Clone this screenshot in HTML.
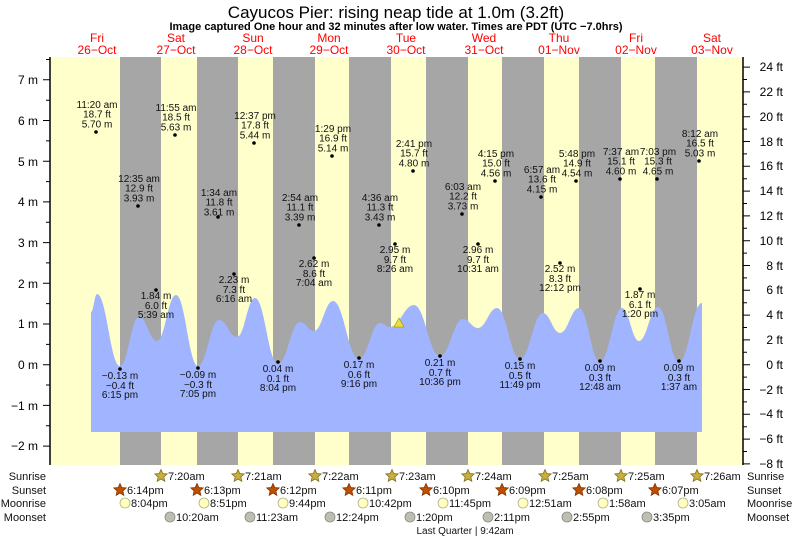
<!DOCTYPE html>
<html><head><meta charset="utf-8"><style>
html,body{margin:0;padding:0;background:#fff}
svg{display:block;font-family:"Liberation Sans",sans-serif}
</style></head><body>
<svg width="793" height="539" viewBox="0 0 793 539" xmlns="http://www.w3.org/2000/svg">
<defs>
<polygon id="st" points="0,-6.5 1.76,-2.43 6.18,-2.01 2.85,0.93 3.82,5.26 0,3 -3.82,5.26 -2.85,0.93 -6.18,-2.01 -1.76,-2.43"/>
</defs>
<text x="396" y="18" font-size="17" text-anchor="middle">Cayucos Pier: rising  neap tide at 1.0m (3.2ft)</text>
<text x="396" y="30" font-size="11" font-weight="bold" text-anchor="middle">Image captured One hour and 32 minutes after low water. Times are PDT (UTC −7.0hrs)</text>
<g fill="#f00" font-size="12" text-anchor="middle">
<text x="97" y="42">Fri</text><text x="97" y="54">26−Oct</text>
<text x="176" y="42">Sat</text><text x="176" y="54">27−Oct</text>
<text x="253" y="42">Sun</text><text x="253" y="54">28−Oct</text>
<text x="329" y="42">Mon</text><text x="329" y="54">29−Oct</text>
<text x="406" y="42">Tue</text><text x="406" y="54">30−Oct</text>
<text x="484" y="42">Wed</text><text x="484" y="54">31−Oct</text>
<text x="559" y="42">Thu</text><text x="559" y="54">01−Nov</text>
<text x="636" y="42">Fri</text><text x="636" y="54">02−Nov</text>
<text x="712" y="42">Sat</text><text x="712" y="54">03−Nov</text>
</g>
<rect x="50" y="57" width="693" height="408" fill="#ffffcc"/>
<g fill="#a6a6a6">
<rect x="120" y="57" width="41" height="408"/><rect x="197" y="57" width="41" height="408"/>
<rect x="273" y="57" width="42" height="408"/><rect x="349" y="57" width="42" height="408"/>
<rect x="426" y="57" width="42" height="408"/><rect x="502" y="57" width="42" height="408"/>
<rect x="579" y="57" width="42" height="408"/><rect x="655" y="57" width="42" height="408"/>
</g>
<path fill="#a0b4ff" d="M91,432 L91,312 C93.5,312 94.5,294 97,294 C106.7,294 110.3,366 120,366 C128,366 131,317 139,317 C146.6,317 149.4,341 157,341 C165,341 168,295 176,295 C185.2,295 188.8,366 198,366 C206.8,366 210.2,320 219,320 C226.6,320 229.4,337 237,337 C244.6,337 247.4,298 255,298 C264.7,298 268.3,364 278,364 C287.2,364 290.8,322 300,322 C305.9,322 308.1,331 314,331 C322,331 325,301 333,301 C343.9,301 348.1,359 359,359 C367.8,359 371.2,323 380,323 C384.2,323 385.8,327 390,327 C400,327 404,305 414,305 C424.9,305 429.1,356 440,356 C449.7,356 453.3,319 463,319 C469.3,319 471.7,328 478,328 C486,328 489,308 497,308 C506.7,308 510.3,359 520,359 C529.7,359 533.3,313 543,313 C550.1,313 552.9,333 560,333 C568,333 571,308 579,308 C587.8,308 591.2,362 600,362 C609.2,362 612.8,308 622,308 C629.1,308 631.9,341 639,341 C647,341 650,307 658,307 C666.8,307 670.2,362 679,362 C688.7,362 692.3,303 702,303 L702,432 Z"/>
<polygon points="399,318 394,327 404,327" fill="#e8e040" stroke="#a09000" stroke-width="0.6"/>
<line x1="50" y1="57" x2="50" y2="465" stroke="#000" stroke-width="1.5"/>
<line x1="743" y1="57" x2="743" y2="465" stroke="#000" stroke-width="1.5"/>
<path stroke="#000" stroke-width="1" fill="none" d="M43,79.8H50M43,120.5H50M43,161.2H50M43,201.9H50M43,242.6H50M43,283.3H50M43,324H50M43,364.7H50M43,405.4H50M43,446.1H50M46,59.5H50M46,100.2H50M46,140.9H50M46,181.6H50M46,222.3H50M46,262.9H50M46,303.6H50M46,344.4H50M46,385H50M46,425.8H50
M743,67.1H750M743,91.9H750M743,116.7H750M743,141.5H750M743,166.3H750M743,191.1H750M743,215.9H750M743,240.7H750M743,265.5H750M743,290.3H750M743,315.1H750M743,339.9H750M743,364.7H750M743,389.5H750M743,414.3H750M743,439.1H750M743,463.9H750
M743,79.5H747M743,104.3H747M743,129.1H747M743,153.9H747M743,178.7H747M743,203.5H747M743,228.3H747M743,253.1H747M743,277.9H747M743,302.7H747M743,327.5H747M743,352.3H747M743,377.1H747M743,401.9H747M743,426.7H747M743,451.5H747"/>
<g font-size="12" text-anchor="end">
<text x="38" y="84">7 m</text><text x="38" y="125">6 m</text><text x="38" y="166">5 m</text><text x="38" y="206">4 m</text>
<text x="38" y="247">3 m</text><text x="38" y="288">2 m</text><text x="38" y="328">1 m</text><text x="38" y="369">0 m</text>
<text x="38" y="410">−1 m</text><text x="38" y="450">−2 m</text>
</g>
<g font-size="12" text-anchor="end">
<text x="783" y="71">24 ft</text><text x="783" y="96">22 ft</text><text x="783" y="121">20 ft</text><text x="783" y="146">18 ft</text>
<text x="783" y="170">16 ft</text><text x="783" y="195">14 ft</text><text x="783" y="220">12 ft</text><text x="783" y="245">10 ft</text>
<text x="783" y="270">8 ft</text><text x="783" y="294">6 ft</text><text x="783" y="319">4 ft</text><text x="783" y="344">2 ft</text>
<text x="783" y="369">0 ft</text><text x="783" y="394">−2 ft</text><text x="783" y="418">−4 ft</text><text x="783" y="443">−6 ft</text>
<text x="783" y="468">−8 ft</text>
</g>
<g font-size="10" text-anchor="middle" fill="#111">
<text x="97" y="108">11:20 am</text><text x="97" y="117.5">18.7 ft</text><text x="97" y="127.5">5.70 m</text>
<text x="139" y="182">12:35 am</text><text x="139" y="191.5">12.9 ft</text><text x="139" y="201.5">3.93 m</text>
<text x="176" y="111">11:55 am</text><text x="176" y="120.5">18.5 ft</text><text x="176" y="130.5">5.63 m</text>
<text x="219" y="196">1:34 am</text><text x="219" y="205.5">11.8 ft</text><text x="219" y="215.5">3.61 m</text>
<text x="255" y="119">12:37 pm</text><text x="255" y="128.5">17.8 ft</text><text x="255" y="138.5">5.44 m</text>
<text x="300" y="201">2:54 am</text><text x="300" y="210.5">11.1 ft</text><text x="300" y="220.5">3.39 m</text>
<text x="333" y="132">1:29 pm</text><text x="333" y="141.5">16.9 ft</text><text x="333" y="151.5">5.14 m</text>
<text x="380" y="201">4:36 am</text><text x="380" y="210.5">11.3 ft</text><text x="380" y="220.5">3.43 m</text>
<text x="414" y="147">2:41 pm</text><text x="414" y="156.5">15.7 ft</text><text x="414" y="166.5">4.80 m</text>
<text x="463" y="190">6:03 am</text><text x="463" y="199.5">12.2 ft</text><text x="463" y="209.5">3.73 m</text>
<text x="496" y="157">4:15 pm</text><text x="496" y="166.5">15.0 ft</text><text x="496" y="176.5">4.56 m</text>
<text x="542" y="173">6:57 am</text><text x="542" y="182.5">13.6 ft</text><text x="542" y="192.5">4.15 m</text>
<text x="577" y="157">5:48 pm</text><text x="577" y="166.5">14.9 ft</text><text x="577" y="176.5">4.54 m</text>
<text x="621" y="155">7:37 am</text><text x="621" y="164.5">15.1 ft</text><text x="621" y="174.5">4.60 m</text>
<text x="658" y="155">7:03 pm</text><text x="658" y="164.5">15.3 ft</text><text x="658" y="174.5">4.65 m</text>
<text x="700" y="137">8:12 am</text><text x="700" y="146.5">16.5 ft</text><text x="700" y="156.5">5.03 m</text>

<text x="156" y="299">1.84 m</text><text x="156" y="309">6.0 ft</text><text x="156" y="318">5:39 am</text>
<text x="234" y="283">2.23 m</text><text x="234" y="293">7.3 ft</text><text x="234" y="302">6:16 am</text>
<text x="314" y="267">2.62 m</text><text x="314" y="277">8.6 ft</text><text x="314" y="286">7:04 am</text>
<text x="395" y="253">2.95 m</text><text x="395" y="263">9.7 ft</text><text x="395" y="272">8:26 am</text>
<text x="478" y="253">2.96 m</text><text x="478" y="263">9.7 ft</text><text x="478" y="272">10:31 am</text>
<text x="560" y="272">2.52 m</text><text x="560" y="282">8.3 ft</text><text x="560" y="291">12:12 pm</text>
<text x="640" y="298">1.87 m</text><text x="640" y="308">6.1 ft</text><text x="640" y="317">1:20 pm</text>
<text x="120" y="379">−0.13 m</text><text x="120" y="389">−0.4 ft</text><text x="120" y="398">6:15 pm</text>
<text x="198" y="378">−0.09 m</text><text x="198" y="388">−0.3 ft</text><text x="198" y="397">7:05 pm</text>
<text x="278" y="372">0.04 m</text><text x="278" y="382">0.1 ft</text><text x="278" y="391">8:04 pm</text>
<text x="359" y="368">0.17 m</text><text x="359" y="378">0.6 ft</text><text x="359" y="387">9:16 pm</text>
<text x="440" y="366">0.21 m</text><text x="440" y="376">0.7 ft</text><text x="440" y="385">10:36 pm</text>
<text x="520" y="369">0.15 m</text><text x="520" y="379">0.5 ft</text><text x="520" y="388">11:49 pm</text>
<text x="600" y="371">0.09 m</text><text x="600" y="381">0.3 ft</text><text x="600" y="390">12:48 am</text>
<text x="679" y="371">0.09 m</text><text x="679" y="381">0.3 ft</text><text x="679" y="390">1:37 am</text>
</g>
<g fill="#000">
<circle cx="96" cy="132" r="1.8"/><circle cx="138" cy="206" r="1.8"/><circle cx="175" cy="135" r="1.8"/><circle cx="218" cy="217" r="1.8"/>
<circle cx="254" cy="143" r="1.8"/><circle cx="299" cy="225" r="1.8"/><circle cx="332" cy="156" r="1.8"/><circle cx="379" cy="225" r="1.8"/>
<circle cx="413" cy="171" r="1.8"/><circle cx="462" cy="214" r="1.8"/><circle cx="495" cy="181" r="1.8"/><circle cx="541" cy="197" r="1.8"/>
<circle cx="576" cy="181" r="1.8"/><circle cx="620" cy="179" r="1.8"/><circle cx="657" cy="179" r="1.8"/><circle cx="699" cy="161" r="1.8"/>
<circle cx="156" cy="290" r="1.8"/><circle cx="234" cy="274" r="1.8"/><circle cx="314" cy="258" r="1.8"/><circle cx="395" cy="244" r="1.8"/>
<circle cx="478" cy="244" r="1.8"/><circle cx="560" cy="263" r="1.8"/><circle cx="640" cy="289" r="1.8"/>
<circle cx="120" cy="369" r="1.8"/><circle cx="198" cy="368" r="1.8"/><circle cx="278" cy="362" r="1.8"/><circle cx="359" cy="358" r="1.8"/>
<circle cx="440" cy="356" r="1.8"/><circle cx="520" cy="359" r="1.8"/><circle cx="600" cy="361" r="1.8"/><circle cx="679" cy="361" r="1.8"/>
</g>
<g font-size="11" fill="#111">
<text x="46" y="480" text-anchor="end">Sunrise</text><text x="46" y="494" text-anchor="end">Sunset</text>
<text x="46" y="507" text-anchor="end">Moonrise</text><text x="46" y="521" text-anchor="end">Moonset</text>
<text x="747" y="480">Sunrise</text><text x="747" y="494">Sunset</text>
<text x="747" y="507">Moonrise</text><text x="747" y="521">Moonset</text>
<text x="465" y="534" text-anchor="middle" font-size="10">Last Quarter | 9:42am</text>
</g>
<g fill="#c8b040" stroke="#807020" stroke-width="0.8">
<use href="#st" x="161" y="476"/><use href="#st" x="238" y="476"/><use href="#st" x="315" y="476"/><use href="#st" x="392" y="476"/>
<use href="#st" x="468" y="476"/><use href="#st" x="545" y="476"/><use href="#st" x="621" y="476"/><use href="#st" x="697" y="476"/>
</g>
<g fill="#c05000" stroke="#803000" stroke-width="0.8">
<use href="#st" x="120" y="490"/><use href="#st" x="197" y="490"/><use href="#st" x="273" y="490"/><use href="#st" x="349" y="490"/>
<use href="#st" x="426" y="490"/><use href="#st" x="502" y="490"/><use href="#st" x="579" y="490"/><use href="#st" x="655" y="490"/>
</g>
<g fill="#ffffc0" stroke="#b0b080" stroke-width="0.8">
<circle cx="125" cy="503" r="5"/><circle cx="204" cy="503" r="5"/><circle cx="283" cy="503" r="5"/><circle cx="363" cy="503" r="5"/>
<circle cx="443" cy="503" r="5"/><circle cx="523" cy="503" r="5"/><circle cx="603" cy="503" r="5"/><circle cx="683" cy="503" r="5"/>
</g>
<g fill="#c0beb0" stroke="#888" stroke-width="0.8">
<circle cx="170" cy="517" r="5"/><circle cx="250" cy="517" r="5"/><circle cx="330" cy="517" r="5"/><circle cx="410" cy="517" r="5"/>
<circle cx="488" cy="517" r="5"/><circle cx="567" cy="517" r="5"/><circle cx="647" cy="517" r="5"/>
</g>
<g font-size="11" fill="#111">
<text x="168" y="480">7:20am</text><text x="245" y="480">7:21am</text><text x="322" y="480">7:22am</text><text x="399" y="480">7:23am</text>
<text x="475" y="480">7:24am</text><text x="552" y="480">7:25am</text><text x="628" y="480">7:25am</text><text x="704" y="480">7:26am</text>
<text x="127" y="494">6:14pm</text><text x="204" y="494">6:13pm</text><text x="280" y="494">6:12pm</text><text x="356" y="494">6:11pm</text>
<text x="433" y="494">6:10pm</text><text x="509" y="494">6:09pm</text><text x="586" y="494">6:08pm</text><text x="662" y="494">6:07pm</text>
<text x="131" y="507">8:04pm</text><text x="210" y="507">8:51pm</text><text x="289" y="507">9:44pm</text><text x="369" y="507">10:42pm</text>
<text x="449" y="507">11:45pm</text><text x="529" y="507">12:51am</text><text x="609" y="507">1:58am</text><text x="689" y="507">3:05am</text>
<text x="176" y="521">10:20am</text><text x="256" y="521">11:23am</text><text x="336" y="521">12:24pm</text><text x="416" y="521">1:20pm</text>
<text x="494" y="521">2:11pm</text><text x="573" y="521">2:55pm</text><text x="653" y="521">3:35pm</text>
</g>
</svg>
</body></html>
